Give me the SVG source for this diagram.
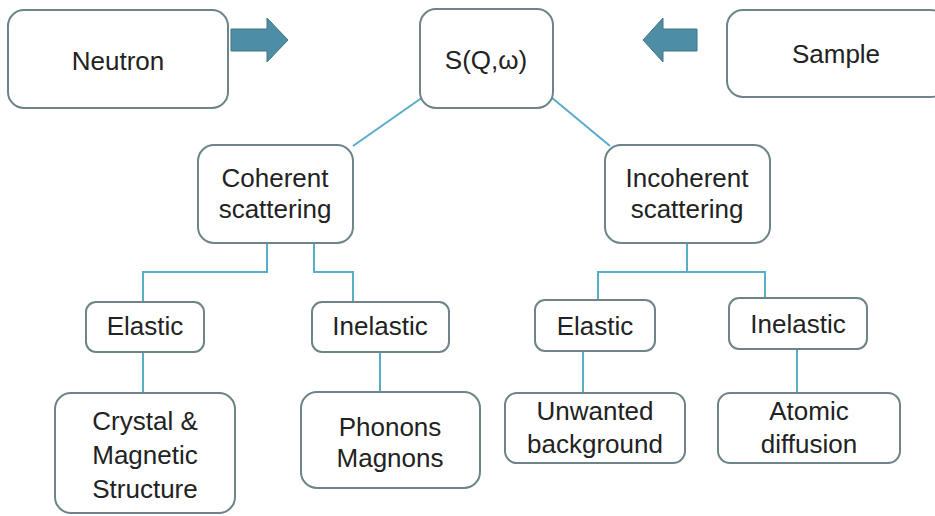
<svg xmlns="http://www.w3.org/2000/svg" width="935" height="516" viewBox="0 0 935 516">
<style>
.box{fill:#fff;stroke:#6e8489;stroke-width:2}
.t{font-family:"Liberation Sans",Arial,sans-serif;font-size:26px;fill:#222;text-anchor:middle}
.ln{fill:none;stroke:#5aaccb;stroke-width:2}
.arr{fill:#4e8ea5;stroke:#3f7588;stroke-width:1}
</style>
<rect width="935" height="516" fill="#fff"/>
<g id="connectors">
<line class="ln" x1="423" y1="97" x2="353" y2="146"/>
<line class="ln" x1="551" y1="97" x2="610" y2="146"/>
<polyline class="ln" points="267,243 267,272 143,272 143,302"/>
<polyline class="ln" points="314,243 314,272 353,272 353,302"/>
<polyline class="ln" points="687,243 687,272 598,272 598,300"/>
<polyline class="ln" points="687,272 765,272 765,298"/>
<line class="ln" x1="143" y1="352" x2="143" y2="393"/>
<line class="ln" x1="380" y1="352" x2="380" y2="392"/>
<line class="ln" x1="583" y1="351" x2="583" y2="393"/>
<line class="ln" x1="797" y1="349" x2="797" y2="393"/>
<polygon class="arr" points="231,29 267,29 267,18 288,40 267,62 267,51 231,51"/>
<polygon class="arr" points="697,29 663,29 663,18 643,40 663,62 663,51 697,51"/>
</g>
<g id="neutron"><rect class="box" x="8" y="10" width="220" height="98" rx="16"/><text class="t" x="118" y="70">Neutron</text></g>
<g id="sqw"><rect class="box" x="420" y="9" width="133" height="99" rx="16"/><text class="t" x="486" y="69">S(Q,ω)</text></g>
<g id="sample"><rect class="box" x="727" y="10" width="220" height="87" rx="16"/><text class="t" x="836" y="63">Sample</text></g>
<g id="coherent"><rect class="box" x="198" y="145" width="155" height="98" rx="16"/><text class="t" x="275" y="187">Coherent</text><text class="t" x="275" y="218">scattering</text></g>
<g id="incoherent"><rect class="box" x="605" y="145" width="165" height="98" rx="16"/><text class="t" x="687" y="187">Incoherent</text><text class="t" x="687" y="218">scattering</text></g>
<g id="coh-elastic"><rect class="box" x="86" y="302" width="118" height="50" rx="10"/><text class="t" x="145" y="335">Elastic</text></g>
<g id="coh-inelastic"><rect class="box" x="312" y="302" width="137" height="50" rx="10"/><text class="t" x="380" y="335">Inelastic</text></g>
<g id="inc-elastic"><rect class="box" x="535" y="300" width="120" height="51" rx="10"/><text class="t" x="595" y="335">Elastic</text></g>
<g id="inc-inelastic"><rect class="box" x="729" y="298" width="138" height="51" rx="10"/><text class="t" x="798" y="333">Inelastic</text></g>
<g id="crystal"><rect class="box" x="55" y="393" width="180" height="120" rx="16"/><text class="t" x="145" y="430">Crystal &amp;</text><text class="t" x="145" y="464">Magnetic</text><text class="t" x="145" y="498">Structure</text></g>
<g id="phonons"><rect class="box" x="301" y="392" width="179" height="96" rx="16"/><text class="t" x="390" y="436">Phonons</text><text class="t" x="390" y="467">Magnons</text></g>
<g id="unwanted"><rect class="box" x="505" y="393" width="180" height="70" rx="12"/><text class="t" x="595" y="420">Unwanted</text><text class="t" x="595" y="453">background</text></g>
<g id="atomic"><rect class="box" x="718" y="393" width="182" height="70" rx="12"/><text class="t" x="809" y="420">Atomic</text><text class="t" x="809" y="453">diffusion</text></g>
</svg>
